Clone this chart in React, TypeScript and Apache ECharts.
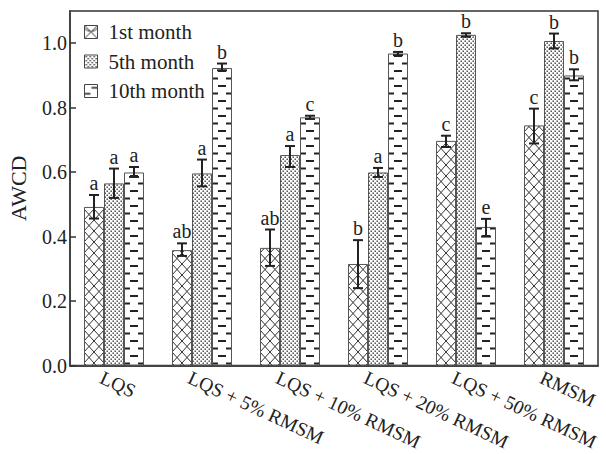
import React, { useEffect, useRef } from 'react';
import * as echarts from 'echarts';

const categories = ['LQS', 'LQS + 5% RMSM', 'LQS + 10% RMSM', 'LQS + 20% RMSM', 'LQS + 50% RMSM', 'RMSM'];
const seriesNames = ['1st month', '5th month', '10th month'];

const month1 = [0.492, 0.358, 0.365, 0.315, 0.697, 0.745];
const month1Low = [0.456, 0.34, 0.309, 0.24, 0.678, 0.689];
const month1High = [0.529, 0.379, 0.422, 0.389, 0.713, 0.797];

const month5 = [0.565, 0.596, 0.653, 0.599, 1.026, 1.007];
const month5Low = [0.52, 0.556, 0.616, 0.585, 1.02, 0.984];
const month5High = [0.611, 0.639, 0.681, 0.613, 1.031, 1.03];

const month10 = [0.599, 0.923, 0.77, 0.968, 0.43, 0.9];
const month10Low = [0.585, 0.916, 0.765, 0.963, 0.4, 0.885];
const month10High = [0.616, 0.937, 0.775, 0.973, 0.455, 0.919];

const letters1 = ['a', 'ab', 'ab', 'b', 'c', 'c'];
const letters5 = ['a', 'a', 'a', 'a', 'b', 'b'];
const letters10 = ['a', 'b', 'c', 'b', 'e', 'b'];

const FONT = '"Liberation Serif", "Times New Roman", serif';

function makeCanvas(w: number, h: number, draw: (ctx: CanvasRenderingContext2D) => void) {
  const c = document.createElement('canvas');
  c.width = w;
  c.height = h;
  const ctx = c.getContext('2d') as CanvasRenderingContext2D;
  ctx.fillStyle = '#ffffff';
  ctx.fillRect(0, 0, w, h);
  draw(ctx);
  return c;
}

export default function App() {
  const ref = useRef<HTMLDivElement>(null);

  useEffect(() => {
    if (!ref.current) return;
    const chart = echarts.init(ref.current, undefined, { renderer: 'svg' });

    // bar patterns (tile width = category width so each bar gets the same alignment)
    const crossCanvas = makeCanvas(88, 11, (ctx) => {
      ctx.strokeStyle = '#333';
      ctx.lineWidth = 1;
      for (const shift of [0, -88]) {
        for (const x of [74, 84, 94, 104]) {
          const xs = x + shift;
          ctx.beginPath();
          ctx.moveTo(xs, 0);
          ctx.lineTo(xs + 10, 11);
          ctx.moveTo(xs + 10, 0);
          ctx.lineTo(xs, 11);
          ctx.stroke();
        }
      }
    });
    const dotCanvas = makeCanvas(4, 4, (ctx) => {
      ctx.fillStyle = '#333';
      ctx.fillRect(0.5, 0.5, 1.4, 1.4);
      ctx.fillRect(2.5, 2.5, 1.4, 1.4);
    });
    const dashCanvas = makeCanvas(88, 15, (ctx) => {
      ctx.fillStyle = '#222';
      ctx.fillRect(36, 2.5, 6, 2);
      ctx.fillRect(50, 2.5, 6, 2);
      ctx.fillRect(42, 10, 8, 2);
    });

    // legend icon patterns (local icon coordinates)
    const crossIcon = makeCanvas(13, 13, (ctx) => {
      ctx.strokeStyle = '#333';
      ctx.lineWidth = 1;
      ctx.beginPath();
      ctx.moveTo(0, 0);
      ctx.lineTo(13, 13);
      ctx.moveTo(13, 0);
      ctx.lineTo(0, 13);
      ctx.moveTo(0, 3);
      ctx.quadraticCurveTo(6.5, 9, 13, 3);
      ctx.stroke();
    });
    const dotIcon = makeCanvas(13, 13, (ctx) => {
      ctx.fillStyle = '#333';
      for (let y = 1; y < 13; y += 4) {
        for (let x = 1; x < 13; x += 4) {
          ctx.fillRect(x, y, 1.4, 1.4);
          ctx.fillRect(x + 2, y + 2, 1.4, 1.4);
        }
      }
    });
    const dashIcon = makeCanvas(13, 13, (ctx) => {
      ctx.fillStyle = '#222';
      ctx.fillRect(7, 2.5, 6, 1.6);
      ctx.fillRect(0, 8.5, 6, 1.6);
    });

    const pat = (img: HTMLCanvasElement) => ({
      image: img,
      repeat: 'repeat',
      imageWidth: img.width,
      imageHeight: img.height,
    });

    const barPatterns = [pat(crossCanvas), pat(dotCanvas), pat(dashCanvas)];
    const iconPatterns = [pat(crossIcon), pat(dotIcon), pat(dashIcon)];

    const values = [month1, month5, month10];
    const lows = [month1Low, month5Low, month10Low];
    const highs = [month1High, month5High, month10High];
    const letters = [letters1, letters5, letters10];
    const offsets = [-20, 0, 20];

    const barSeries = values.map((vals, m) => ({
      name: seriesNames[m],
      type: 'bar',
      data: vals,
      barWidth: 20,
      barGap: '0%',
      itemStyle: {
        color: barPatterns[m],
        borderColor: '#555',
        borderWidth: 1,
      },
      z: 2,
    }));

    const errSeries = values.map((vals, m) => ({
      name: 'err' + m,
      type: 'custom',
      z: 4,
      data: vals.map((_, i) => [i, lows[m][i], highs[m][i]]),
      encode: { x: 0, y: [1, 2] },
      renderItem: (params: any, api: any) => {
        const i = params.dataIndex;
        const pLo = api.coord([i, lows[m][i]]);
        const pHi = api.coord([i, highs[m][i]]);
        const x = pLo[0] + offsets[m];
        const stroke = { stroke: '#222', lineWidth: 2 };
        return {
          type: 'group',
          children: [
            { type: 'line', shape: { x1: x, y1: pHi[1], x2: x, y2: pLo[1] }, style: stroke },
            { type: 'line', shape: { x1: x - 5, y1: pHi[1], x2: x + 5, y2: pHi[1] }, style: stroke },
            { type: 'line', shape: { x1: x - 5, y1: pLo[1], x2: x + 5, y2: pLo[1] }, style: stroke },
            {
              type: 'text',
              x: x,
              y: pHi[1] - 2,
              style: {
                text: letters[m][i],
                fill: '#222',
                fontSize: 20,
                fontFamily: FONT,
                align: 'center',
                verticalAlign: 'bottom',
              },
            },
          ],
        };
      },
    }));

    const option: any = {
      animation: false,
      backgroundColor: '#ffffff',
      grid: {
        left: 70,
        right: 8,
        top: 11,
        bottom: 88.5,
        show: true,
        borderColor: '#333',
        borderWidth: 1.5,
        backgroundColor: 'transparent',
        containLabel: false,
        outerBoundsMode: 'none',
      },
      legend: {
        orient: 'vertical',
        left: 84,
        top: 21.5,
        padding: 0,
        itemGap: 8.5,
        itemWidth: 13,
        itemHeight: 13,
        icon: 'rect',
        selectedMode: false,
        textStyle: {
          fontFamily: FONT,
          fontSize: 21,
          color: '#222',
          lineHeight: 20,
          padding: [0, 0, 0, 6],
        },
        data: seriesNames.map((n, k) => ({
          name: n,
          itemStyle: { color: iconPatterns[k], borderColor: '#444', borderWidth: 1 },
        })),
      },
      xAxis: {
        type: 'category',
        data: categories,
        axisTick: { show: false },
        axisLine: { lineStyle: { color: '#444', width: 2 } },
        axisLabel: {
          rotate: -25,
          fontFamily: FONT,
          fontSize: 19.5,
          color: '#222',
          margin: 17,
          padding: [0, 0, 0, -14],
          interval: 0,
        },
      },
      yAxis: {
        type: 'value',
        min: 0,
        max: 1.1,
        interval: 0.2,
        name: 'AWCD',
        nameLocation: 'middle',
        nameGap: 41,
        nameTextStyle: { fontFamily: FONT, fontSize: 22, color: '#222' },
        axisLine: { show: true, lineStyle: { color: '#444', width: 2 } },
        axisTick: { show: true, inside: true, length: 6, lineStyle: { color: '#333', width: 1.5 } },
        splitLine: { show: false },
        axisLabel: {
          fontFamily: FONT,
          fontSize: 20,
          color: '#222',
          margin: 3,
          showMaxLabel: false,
          formatter: (v: number) => (v > 1.05 ? '' : v.toFixed(1)),
        },
      },
      series: [...barSeries, ...errSeries],
    };

    chart.setOption(option);
    return () => chart.dispose();
  }, []);

  return (
    <div
      ref={ref}
      style={{ position: 'absolute', left: 0, top: 0, width: 606, height: 454, background: '#fff' }}
    />
  );
}
